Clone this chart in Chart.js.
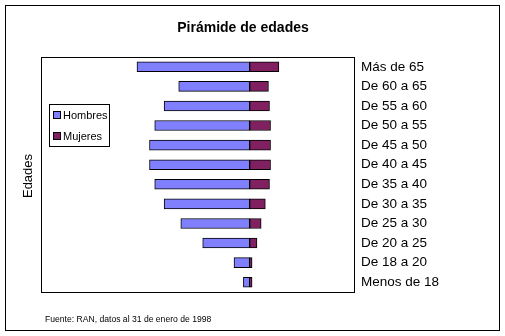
<!DOCTYPE html>
<html>
<head>
<meta charset="utf-8">
<script src="https://cdn.jsdelivr.net/npm/chart.js@4"></script>
<style>
  html, body { margin: 0; padding: 0; background: #fff; }
  #wrap { width: 505px; height: 336px; }
</style>
</head>
<body>
<div id="wrap"><canvas id="pyramid" width="505" height="336"></canvas></div>
<script>
// age groups, top to bottom
const grupos = ['Más de 65', 'De 60 a 65', 'De 55 a 60', 'De 50 a 55', 'De 45 a 50', 'De 40 a 45',
                'De 35 a 40', 'De 30 a 35', 'De 25 a 30', 'De 20 a 25', 'De 18 a 20', 'Menos de 18'];
// men to the left (negative), women to the right
const hombres = [-108, -68, -82, -91, -96, -96, -91, -82, -66, -45, -15, -6];
const mujeres = [28, 18, 19, 20, 20, 20, 19, 15, 11, 7, 2.3, 2.3];

const titulo = 'Pirámide de edades';
const tituloEje = 'Edades';
const fuente = 'Fuente: RAN, datos al 31 de enero de 1998';

// draws the frame, title, axis title, note and the small legend box
const decoPlugin = {
    id: 'deco',
    beforeDraw(chart) {
        const c = chart.ctx;
        c.save();
        c.fillStyle = '#fff';
        c.fillRect(0, 0, chart.width, chart.height);
        c.restore();
    },
    afterDraw(chart) {
        const c = chart.ctx;
        const a = chart.chartArea;
        c.save();
        c.strokeStyle = '#000';
        c.lineWidth = 1;
        c.strokeRect(5.5, 5.5, 494, 325);
        c.strokeRect(Math.round(a.left) + 0.5, Math.round(a.top) + 0.5,
                     Math.round(a.right - a.left), Math.round(a.bottom - a.top));

        c.fillStyle = '#000';
        c.textAlign = 'center';
        c.textBaseline = 'middle';
        c.font = 'bold 14px "Liberation Sans", Arial, sans-serif';
        c.fillText(titulo, 243, 28);

        c.save();
        c.translate(28, 176);
        c.rotate(-Math.PI / 2);
        c.font = '13px "Liberation Sans", Arial, sans-serif';
        c.fillText(tituloEje, 0, 0);
        c.restore();

        c.textAlign = 'left';
        c.font = '8.6px "Liberation Sans", Arial, sans-serif';
        c.fillText(fuente, 45, 320);

        // legend
        c.fillStyle = '#fff';
        c.fillRect(49.5, 104.5, 60, 42);
        c.strokeRect(49.5, 104.5, 60, 42);
        c.font = '11px "Liberation Sans", Arial, sans-serif';
        chart.data.datasets.forEach((ds, i) => {
            const y = 115 + i * 21;
            c.fillStyle = ds.backgroundColor;
            c.fillRect(53.5, y - 3.5, 7, 7);
            c.strokeRect(53.5, y - 3.5, 7, 7);
            c.fillStyle = '#000';
            c.fillText(ds.label, 63, y + 0.5);
        });
        c.restore();
    }
};

const ctx = document.getElementById('pyramid').getContext('2d');
new Chart(ctx, {
    type: 'bar',
    data: {
        labels: grupos,
        datasets: [{
            label: 'Hombres',
            data: hombres,
            backgroundColor: '#8080ff',
            borderColor: '#000',
            borderWidth: 1,
            borderSkipped: false
        }, {
            label: 'Mujeres',
            data: mujeres,
            backgroundColor: '#802060',
            borderColor: '#000',
            borderWidth: 1,
            borderSkipped: false
        }]
    },
    options: {
        indexAxis: 'y',
        responsive: false,
        animation: false,
        layout: { padding: { left: 41, top: 57, bottom: 44, right: 0 } },
        datasets: { bar: { barThickness: 10 } },
        plugins: {
            legend: { display: false },
            title: { display: false },
            tooltip: { enabled: false }
        },
        scales: {
            x: {
                display: false,
                stacked: true,
                min: -200,
                max: 100
            },
            y: {
                stacked: true,
                position: 'right',
                grid: { display: false, drawTicks: false },
                border: { display: false },
                ticks: {
                    padding: 7,
                    color: '#000',
                    font: { family: '"Liberation Sans", Arial, sans-serif', size: 13.5 }
                },
                afterFit(scale) { scale.width = 151; }
            }
        }
    },
    plugins: [decoPlugin]
});
</script>
</body>
</html>
